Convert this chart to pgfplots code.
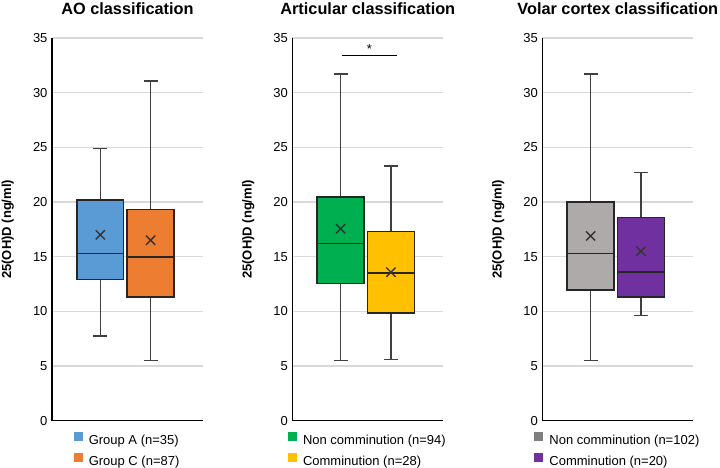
\documentclass[border=0pt]{standalone}
\usepackage{fontspec}
\setmainfont{Liberation Sans}
\usepackage{pgfplots}
\pgfplotsset{compat=1.18}

\definecolor{cA}{HTML}{5B9BD5}
\definecolor{cC}{HTML}{ED7D31}
\definecolor{cGreen}{HTML}{00B050}
\definecolor{cYellow}{HTML}{FFC000}
\definecolor{cGrayBox}{HTML}{AEAAAA}
\definecolor{cGrayLeg}{HTML}{7F7F7F}
\definecolor{cPurple}{HTML}{7030A0}
\definecolor{gridc}{HTML}{D9D9D9}

\pgfplotsset{
  panel/.style={
    scale only axis,
    width=151pt, height=382.7pt,
    anchor=south west,
    xmin=0.04, xmax=3.04,
    ymin=0, ymax=35,
    ytick={0,5,...,35},
    xtick=\empty,
    axis lines=left,
    axis line style={-, black, line width=1.5pt},
    ymajorgrids=true,
    grid style={gridc, line width=1.1pt},
    major tick length=0pt,
    /pgf/number format/assume math mode=true,
    tick label style={font=\fontsize{13}{15}\selectfont},
    yticklabel style={xshift=-1pt},
    title style={at={(0.5,1)}, anchor=base, yshift=17pt, font=\bfseries\fontsize{16.3}{18}\selectfont},
    ylabel={25(OH)D (ng/ml)},
    ylabel style={at={(axis description cs:-0.292,0.5)}, anchor=center, font=\bfseries\fontsize{13}{15}\selectfont},
    legend style={at={(axis description cs:0.5,0)}, anchor=north, yshift=-9pt,
      draw=none, fill=none, font=\fontsize{13}{15}\selectfont, row sep=4.5pt},
    legend cell align=left,
  },
  sq/.style={legend image code/.code={\fill[##1, draw=none] (0pt,-0.2pt) rectangle (9pt,8.8pt); \path (13pt,0pt);}},
  whisk/.style={draw=black!75, line width=1.5pt, forget plot},
  meanx/.style={only marks, mark=x, mark size=6.5pt, mark options={line width=1.4pt, draw=black!80}, forget plot},
}

% box at position 1: #1 colour, #2 lower whisker, #3 Q1, #4 median, #5 Q3, #6 upper whisker
\newcommand\boxA[6]{%
  \addplot[whisk] coordinates {(1,#2) (1,#3)};
  \addplot[whisk] coordinates {(1,#5) (1,#6)};
  \addplot[whisk] coordinates {(0.86,#2) (1.14,#2)};
  \addplot[whisk] coordinates {(0.86,#6) (1.14,#6)};
  \addplot[fill=#1, draw=black!85, line width=1.5pt, forget plot]
    coordinates {(0.535,#3) (1.465,#3) (1.465,#5) (0.535,#5)} -- cycle;
  \addplot[draw=black!85, line width=1.5pt, forget plot] coordinates {(0.535,#4) (1.465,#4)};
}
% box at position 2
\newcommand\boxB[6]{%
  \addplot[whisk] coordinates {(2,#2) (2,#3)};
  \addplot[whisk] coordinates {(2,#5) (2,#6)};
  \addplot[whisk] coordinates {(1.86,#2) (2.14,#2)};
  \addplot[whisk] coordinates {(1.86,#6) (2.14,#6)};
  \addplot[fill=#1, draw=black!85, line width=1.5pt, forget plot]
    coordinates {(1.535,#3) (2.465,#3) (2.465,#5) (1.535,#5)} -- cycle;
  \addplot[draw=black!85, line width=1.5pt, forget plot] coordinates {(1.535,#4) (2.465,#4)};
}

\begin{document}
\begin{tikzpicture}
\path[use as bounding box] (0,0) rectangle (720pt,468pt);

% AO classification
\begin{axis}[panel, at={(52pt,47.3pt)}, title={AO classification}]
\addlegendimage{sq, fill=cA}
\addlegendentry{Group A (n=35)}
\addlegendimage{sq, fill=cC}
\addlegendentry{Group C (n=87)}
\boxA{cA}{7.75}{12.9}{15.3}{20.2}{24.9}
\boxB{cC}{5.5}{11.3}{14.95}{19.3}{31.05}
\addplot[meanx] coordinates {(1,17.0) (2,16.5)};
\end{axis}

% Articular classification
\begin{axis}[panel, at={(292.3pt,47.3pt)}, title={Articular classification}]
\addlegendimage{sq, fill=cGreen}
\addlegendentry{Non comminution (n=94)}
\addlegendimage{sq, fill=cYellow}
\addlegendentry{Comminution (n=28)}
\boxA{cGreen}{5.5}{12.57}{16.2}{20.45}{31.7}
\boxB{cYellow}{5.6}{9.85}{13.5}{17.3}{23.3}
\addplot[meanx] coordinates {(1,17.55) (2,13.58)};
% significance bar
\addplot[black, line width=1.5pt, forget plot] coordinates {(1.02,33.4) (2.12,33.4)};
\node[font=\fontsize{13}{15}\selectfont] at (axis cs:1.57,34.0) {*};
\end{axis}

% Volar cortex classification
\begin{axis}[panel, at={(542.3pt,47.3pt)}, title={Volar cortex classification}]
\addlegendimage{sq, fill=cGrayLeg}
\addlegendentry{Non comminution (n=102)}
\addlegendimage{sq, fill=cPurple}
\addlegendentry{Comminution (n=20)}
\boxA{cGrayBox}{5.5}{11.96}{15.3}{20.0}{31.7}
\boxB{cPurple}{9.6}{11.3}{13.58}{18.6}{22.7}
\addplot[meanx] coordinates {(1,16.9) (2,15.5)};
\end{axis}
\end{tikzpicture}
\end{document}
